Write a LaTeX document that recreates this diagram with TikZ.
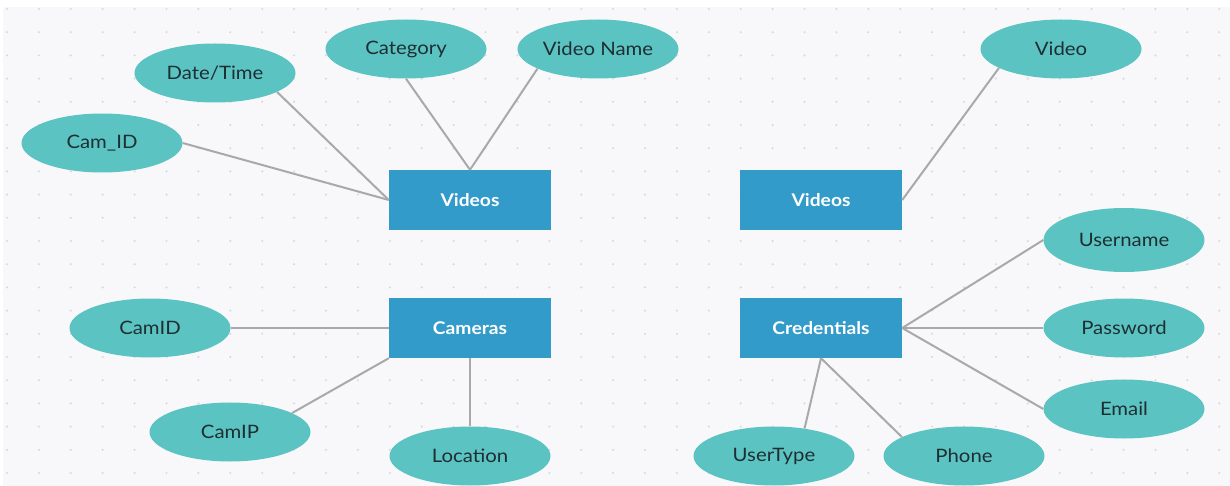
\documentclass[tikz,border=0pt]{standalone}
\usepackage{fontspec}
\usepackage{graphicx}
\setmainfont{Lato}
\usetikzlibrary{shapes.geometric}
\definecolor{bgc}{HTML}{F8F8FA}
\definecolor{dotc}{HTML}{D9DBDF}
\definecolor{attrc}{HTML}{5BC4C2}
\definecolor{entc}{HTML}{339BCA}
\definecolor{linec}{HTML}{A9A9A9}
\definecolor{txtc}{HTML}{1E2E33}
\newcommand\wtxt[1]{\scalebox{1.1}[1]{#1}}
\tikzset{
  attr/.style={ellipse, fill=attrc, draw=none, minimum width=161pt, minimum height=59pt, inner sep=0pt,
    text=txtc, font=\fontsize{18.5}{22}\selectfont},
  ent/.style={rectangle, fill=entc, draw=none, minimum width=162pt, minimum height=60pt, inner sep=0pt,
    text=white, font=\fontsize{17.5}{21}\selectfont\bfseries},
  conn/.style={draw=linec, line width=2pt}
}
\begin{document}
\begin{tikzpicture}[x=1pt,y=-1pt]
\useasboundingbox (0,0) rectangle (1230,486);
\fill[white] (0,0) rectangle (1230,486);
\fill[bgc] (3,7) rectangle (1230,486);
\foreach \i in {0,...,38}{
  \foreach \j in {0,...,20}{
    \fill[dotc] (7+31.9*\i, 9+23.2*\j) circle (1.2pt);
  }
}
% entities
\node[ent] (v1) at (470,200) {\wtxt{Videos}};
\node[ent] (v2) at (821,200) {\wtxt{Videos}};
\node[ent] (cam) at (470,328) {\wtxt{Cameras}};
\node[ent] (cred) at (821,328) {\wtxt{Credentials}};
% attributes
\node[attr] (camid1) at (102,143) {\wtxt{Cam\_ID}};
\node[attr] (dt) at (215,73) {\wtxt{Date/Time}};
\node[attr] (cat) at (406,49) {\wtxt{Category}};
\node[attr] (vn) at (598,49) {\wtxt{Video Name}};
\node[attr] (vid) at (1061,49) {\wtxt{Video}};
\node[attr, minimum height=64pt] (user) at (1124,240) {\wtxt{Username}};
\node[attr] (pass) at (1124,328) {\wtxt{Password}};
\node[attr] (email) at (1124,409) {\wtxt{Email}};
\node[attr] (camid2) at (150,328) {\wtxt{CamID}};
\node[attr] (camip) at (230,432) {\wtxt{CamIP}};
\node[attr] (loc) at (470,456) {\wtxt{Location}};
\node[attr] (utype) at (774,456) {\wtxt{UserType}};
\node[attr] (phone) at (964,456) {\wtxt{Phone}};
% connectors
\draw[conn] (camid1.east) -- (v1.west);
\draw[conn] (dt.-17) -- (v1.west);
\draw[conn] (cat.south) -- (v1.north);
\draw[conn] (vn.-162) -- (v1.north);
\draw[conn] (vid.-163) -- (v2.east);
\draw[conn] (user.west) -- (cred.east);
\draw[conn] (pass.west) -- (cred.east);
\draw[conn] (email.west) -- (cred.east);
\draw[conn] (utype.42) -- (cred.south);
\draw[conn] (phone.163) -- (cred.south);
\draw[conn] (camid2.east) -- (cam.west);
\draw[conn] (camip.17) -- (cam.south west);
\draw[conn] (loc.north) -- (cam.south);
\end{tikzpicture}
\end{document}
